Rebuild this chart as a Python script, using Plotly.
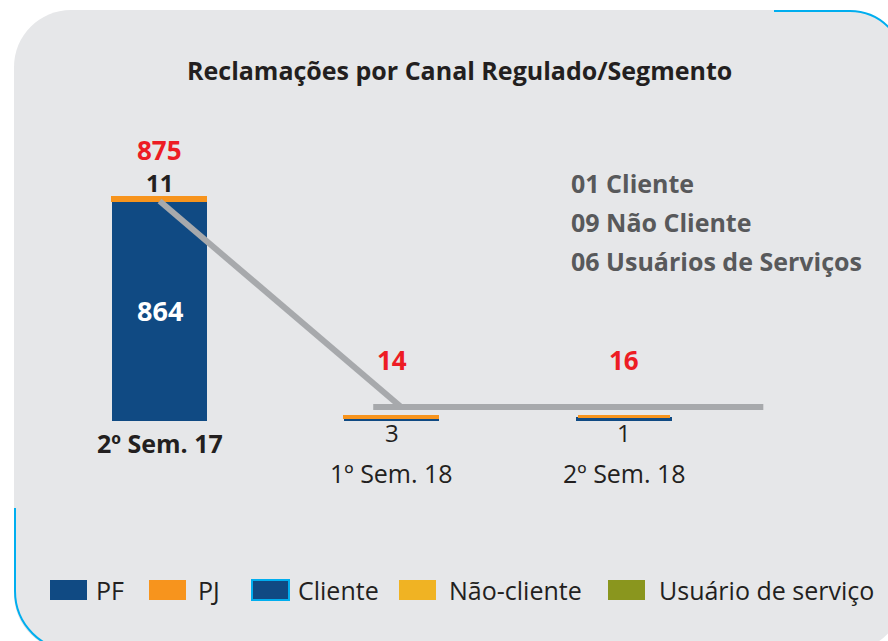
import plotly.graph_objects as go

# ---------------- data ----------------
categories = ["2º Sem. 17", "1º Sem. 18", "2º Sem. 18"]
pf_values = [864, 11, 15]
pj_values = [11, 3, 1]
totals = [875, 14, 16]
side_notes = ["01 Cliente", "09 Não Cliente", "06 Usuários de Serviços"]
legend_labels = ["PF", "PJ", "Cliente", "Não-cliente", "Usuário de serviço"]
legend_colors = ["#104A83", "#F7941D", "#104A83", "#F0B323", "#8A961E"]
legend_borders = [None, None, "#00AEEF", None, None]

# ---------------- styling ----------------
W, H = 888, 641
BLUE = "#104A83"
ORANGE = "#F7941D"
RED = "#ED1C24"
DARK = "#231F20"
GRAY_TXT = "#58595B"
PANEL = "#E6E7E9"
LINE_GRAY = "#A7A9AC"
CYAN = "#00AEEF"
FONT = "Open Sans"
LINE_LEVEL = 55  # decorative connector level


def px(x):
    return x / W


def py(y):
    return 1 - y / H


xs = list(range(len(categories)))

fig = go.Figure()
fig.add_trace(go.Bar(x=xs, y=pf_values, marker=dict(color=BLUE, line=dict(width=0)),
                     width=0.41, name="PF", showlegend=False, hoverinfo="skip"))
fig.add_trace(go.Bar(x=xs, y=pj_values, marker=dict(color=ORANGE, line=dict(width=3, color=ORANGE)),
                     width=0.40, name="PJ", showlegend=False, hoverinfo="skip"))

shapes = []
k = 0.5523


def rrect(x0, y0, x1, y1, r):
    c = r * (1 - k)
    pts = [
        f"M {px(x0)},{py(y0 + r)}",
        f"C {px(x0)},{py(y0 + c)} {px(x0 + c)},{py(y0)} {px(x0 + r)},{py(y0)}",
        f"L {px(x1 - r)},{py(y0)}",
        f"C {px(x1 - c)},{py(y0)} {px(x1)},{py(y0 + c)} {px(x1)},{py(y0 + r)}",
        f"L {px(x1)},{py(y1 - r)}",
        f"C {px(x1)},{py(y1 - c)} {px(x1 - c)},{py(y1)} {px(x1 - r)},{py(y1)}",
        f"L {px(x0 + r)},{py(y1)}",
        f"C {px(x0 + c)},{py(y1)} {px(x0)},{py(y1 - c)} {px(x0)},{py(y1 - r)}",
        "Z",
    ]
    return " ".join(pts)


shapes.append(dict(type="path", xref="paper", yref="paper", path=rrect(14, 10, 904, 651, 57),
                   fillcolor=PANEL, line=dict(width=0), layer="below"))

# cyan border accents
r = 54
c = r * (1 - k)
shapes.append(dict(type="path", xref="paper", yref="paper",
                   path=(f"M {px(774)},{py(11)} L {px(904 - r)},{py(11)} "
                         f"C {px(904 - c)},{py(11)} {px(904)},{py(11 + c)} {px(904)},{py(11 + r)}"),
                   line=dict(color=CYAN, width=2)))
r2 = 60
c2 = r2 * (1 - k)
shapes.append(dict(type="path", xref="paper", yref="paper",
                   path=(f"M {px(15)},{py(508)} L {px(15)},{py(651 - r2)} "
                         f"C {px(15)},{py(651 - c2)} {px(15 + c2)},{py(651)} {px(15 + r2)},{py(651)}"),
                   line=dict(color=CYAN, width=2)))

# decorative connector line (from top of first bar down to a flat line)
shapes.append(dict(type="line", xref="x", yref="y", x0=xs[0], y0=totals[0] - 12,
                   x1=xs[1] + 0.04, y1=LINE_LEVEL, line=dict(color=LINE_GRAY, width=6), layer="above"))
shapes.append(dict(type="line", xref="x", yref="y", x0=xs[1] - 0.08, y0=LINE_LEVEL,
                   x1=xs[2] + 0.6, y1=LINE_LEVEL, line=dict(color=LINE_GRAY, width=6), layer="above"))

annotations = []
# title
annotations.append(dict(text="<b>Reclamações por Canal Regulado/Segmento</b>", x=px(459), y=py(70),
                        xref="paper", yref="paper", showarrow=False, xanchor="center", yanchor="middle",
                        font=dict(family=FONT, size=25, color=DARK)))

# value labels
for i, (cat, pf, pj, tot) in enumerate(zip(categories, pf_values, pj_values, totals)):
    big = i == 0
    annotations.append(dict(text=f"<b>{tot}</b>", x=xs[i], y=tot, xref="x", yref="y", showarrow=False,
                            yshift=48 if big else 57, font=dict(family=FONT, size=26, color=RED)))
    if big:
        annotations.append(dict(text=f"<b>{pj}</b>", x=xs[i], y=tot, xref="x", yref="y", showarrow=False,
                                yshift=16, font=dict(family=FONT, size=24, color=DARK)))
        annotations.append(dict(text=f"<b>{pf}</b>", x=xs[i], y=pf / 2, xref="x", yref="y", showarrow=False,
                                font=dict(family=FONT, size=27, color="white")))
        annotations.append(dict(text=f"<b>{cat}</b>", x=xs[i], y=0, xref="x", yref="y", showarrow=False,
                                yshift=-22, font=dict(family=FONT, size=25, color=DARK)))
    else:
        annotations.append(dict(text=f"{pj}", x=xs[i], y=0, xref="x", yref="y", showarrow=False,
                                yshift=-11, font=dict(family=FONT, size=24, color=DARK)))
        annotations.append(dict(text=cat, x=xs[i], y=0, xref="x", yref="y", showarrow=False,
                                yshift=-52, font=dict(family=FONT, size=25, color=DARK)))

# side notes
for j, note in enumerate(side_notes):
    annotations.append(dict(text=f"<b>{note}</b>", x=px(569), y=py(183 + 39 * j), xref="paper", yref="paper",
                            showarrow=False, xanchor="left", yanchor="middle",
                            font=dict(family=FONT, size=25, color=GRAY_TXT)))

# legend (custom)
leg_box_x = [50, 149, 252, 399, 608]
leg_txt_x = [94, 196, 296, 447, 657]
for lab, col, brd, bx, tx in zip(legend_labels, legend_colors, legend_borders, leg_box_x, leg_txt_x):
    shapes.append(dict(type="rect", xref="paper", yref="paper", x0=px(bx), x1=px(bx + 37),
                       y0=py(600), y1=py(580), fillcolor=col,
                       line=dict(width=2 if brd else 0, color=brd if brd else col)))
    annotations.append(dict(text=lab, x=px(tx), y=py(590), xref="paper", yref="paper", showarrow=False,
                            xanchor="left", yanchor="middle", font=dict(family=FONT, size=25, color=DARK)))

# axis mapping: category centres ~ 160, 392, 624 px; baseline at 421 px
x_step = 232.2
x_first = 159.6
x0 = -x_first / x_step
x1 = x0 + W / x_step
y_scale = 223 / 875
y0 = -(H - 421) / y_scale
y1 = y0 + H / y_scale

fig.update_layout(
    width=W, height=H,
    margin=dict(l=0, r=0, t=0, b=0, pad=0),
    paper_bgcolor="white", plot_bgcolor="rgba(0,0,0,0)",
    barmode="stack", bargap=0,
    xaxis=dict(range=[x0, x1], visible=False, fixedrange=True),
    yaxis=dict(range=[y0, y1], visible=False, fixedrange=True),
    shapes=shapes, annotations=annotations, showlegend=False,
)

fig.write_html("out.html", config={"displayModeBar": False},
               post_script="document.body.style.margin='0px';document.body.style.overflow='hidden';")
